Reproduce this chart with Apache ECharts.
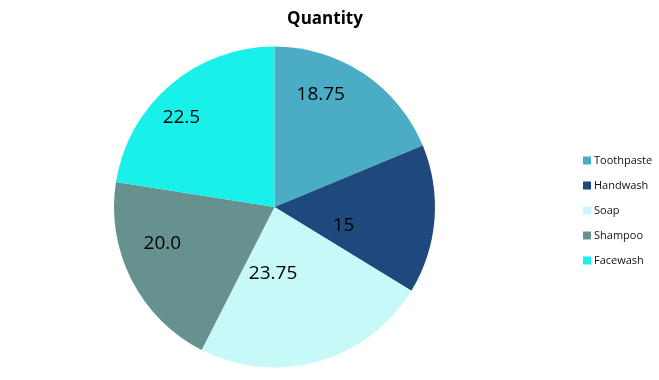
<!DOCTYPE html>
<html><head><meta charset="utf-8">
<script src="https://cdn.jsdelivr.net/npm/echarts@6/dist/echarts.min.js"></script>
<style>html,body{margin:0;padding:0;background:#fff}#c{width:659px;height:380px}</style>
</head><body><div id="c"></div>
<script>
const categories = ['Toothpaste', 'Handwash', 'Soap', 'Shampoo', 'Facewash'];
const values = [18.75, 15, 23.75, 20.0, 22.5];
const valueLabels = ['18.75', '15', '23.75', '20.0', '22.5'];
const colors = ['#4BACC6', '#1F497D', '#C6F9F7', '#66918E', '#18F0E9'];
const labelShift = [[0, -43], [-14, 12], [-24, -14], [-38, -1], [-39, -26]];

const chart = echarts.init(document.getElementById('c'), null, {renderer: 'canvas'});
chart.setOption({
  animation: false,
  title: {
    text: 'Quantity', left: 320, textAlign: 'center', top: 6,
    textStyle: {fontFamily: 'Open Sans', fontSize: 17, fontWeight: 'bold', color: '#000'}
  },
  legend: {
    orient: 'vertical', left: 578, top: 149,
    itemWidth: 8, itemHeight: 8, itemGap: 12,
    icon: 'rect',
    textStyle: {fontFamily: 'Open Sans', fontSize: 11, lineHeight: 13, color: '#111', padding: [0,0,0,-2]},
    data: categories
  },
  series: [{
    type: 'pie',
    center: [274.5, 207],
    radius: 160.5,
    startAngle: 90,
    clockwise: true,
    avoidLabelOverlap: false,
    label: {
      show: true, position: 'inside',
      fontFamily: 'Open Sans', fontSize: 19, color: '#000',
      formatter: p => valueLabels[p.dataIndex]
    },
    labelLine: {show: false},
    labelLayout: p => ({dx: labelShift[p.dataIndex][0], dy: labelShift[p.dataIndex][1]}),
    itemStyle: {borderWidth: 0},
    emphasis: {disabled: true},
    data: categories.map((n, i) => ({name: n, value: values[i], itemStyle: {color: colors[i]}}))
  }]
});
</script></body></html>
